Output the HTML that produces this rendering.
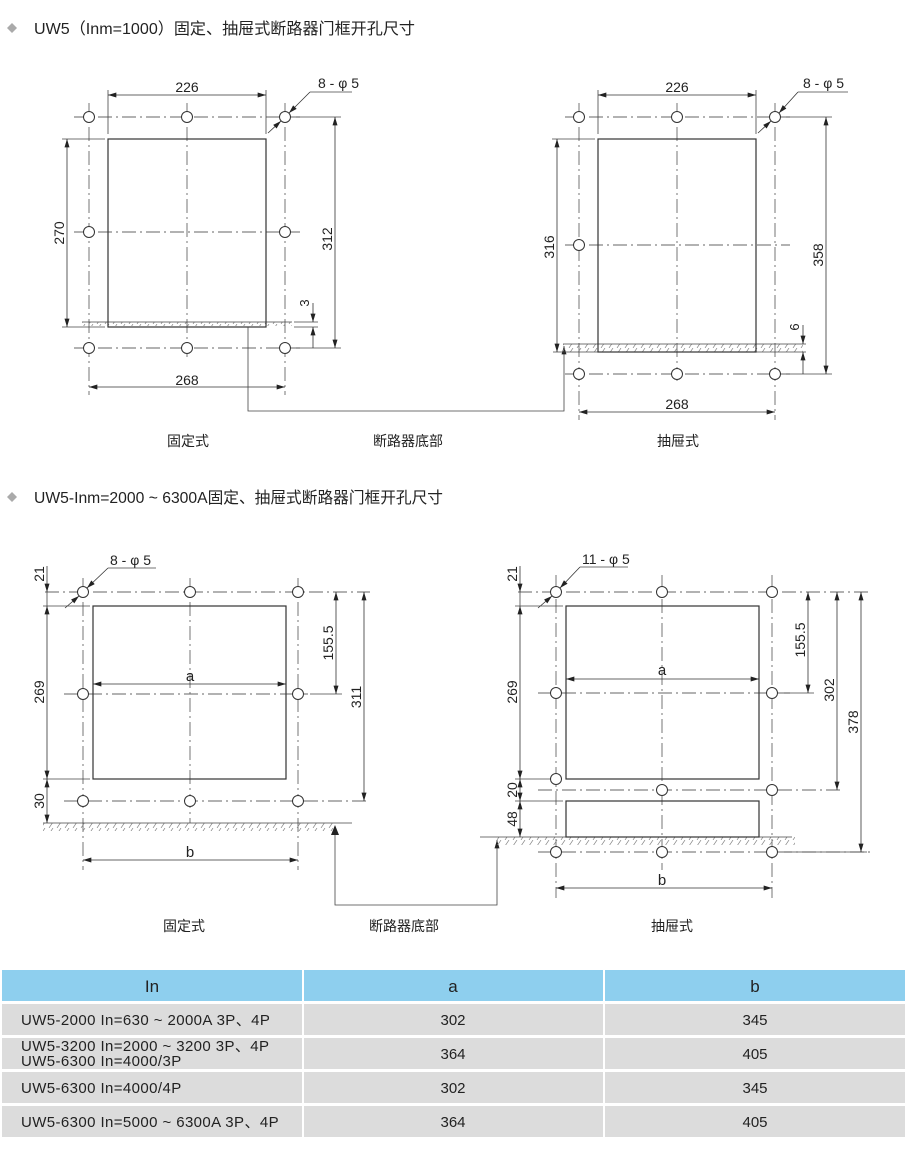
<!DOCTYPE html>
<html><head><meta charset="utf-8"><style>
html,body{margin:0;padding:0;background:#fff;}
body{width:910px;height:1149px;position:relative;overflow:hidden;font-family:"Liberation Sans","Noto Sans CJK SC",sans-serif;}
svg{position:absolute;left:0;top:0;}
.t{font-family:"Liberation Sans","Noto Sans CJK SC",sans-serif;fill:#222;}
</style></head><body>
<svg width="910" height="1149" viewBox="0 0 910 1149" xmlns="http://www.w3.org/2000/svg">
<defs>
<marker id="ar" viewBox="0 0 10 6" refX="10" refY="3" markerWidth="9" markerHeight="5" orient="auto-start-reverse" markerUnits="userSpaceOnUse"><path d="M0,0 L10,3 L0,6 z" fill="#222"/></marker>
<pattern id="hat" width="8" height="6" patternUnits="userSpaceOnUse"><path d="M1,6 L5,0" stroke="#888" stroke-width="0.7"/></pattern>
</defs>
<style>
.c{stroke:#666;stroke-width:0.9;stroke-dasharray:14 4 2 4;fill:none}
.d{stroke:#444;stroke-width:0.8;fill:none}
.r{stroke:#333;stroke-width:1.2;fill:none}
.h{stroke:#333;stroke-width:1;fill:#fff}
.a{stroke:#333;stroke-width:0.8;fill:none;marker-start:url(#ar);marker-end:url(#ar)}
.ae{stroke:#333;stroke-width:0.8;fill:none;marker-end:url(#ar)}
.dm{font-size:14px}
</style>

<path d="M12,23 L17,28 L12,33 L7,28 z" fill="#aaa"/>
<text class="t" x="34" y="34" font-size="16" textLength="381" lengthAdjust="spacingAndGlyphs">UW5（Inm=1000）固定、抽屉式断路器门框开孔尺寸</text>
<path d="M12,492 L17,497 L12,502 L7,497 z" fill="#aaa"/>
<text class="t" x="34" y="503" font-size="16" textLength="409" lengthAdjust="spacingAndGlyphs">UW5-Inm=2000 ~ 6300A固定、抽屉式断路器门框开孔尺寸</text>

<!-- Top-left -->
<g>
<line class="c" x1="74" y1="117" x2="300" y2="117"/>
<line class="c" x1="74" y1="232" x2="300" y2="232"/>
<line class="c" x1="74" y1="348" x2="300" y2="348"/>
<line class="c" x1="89" y1="103" x2="89" y2="395"/>
<line class="c" x1="187" y1="103" x2="187" y2="360"/>
<line class="c" x1="285" y1="103" x2="285" y2="395"/>
<rect x="82" y="322" width="210" height="4" fill="url(#hat)"/>
<line class="d" x1="82" y1="322" x2="292" y2="322"/>
<rect class="r" x="108" y="139" width="158" height="188"/>
<circle class="h" cx="89" cy="117" r="5.5"/><circle class="h" cx="187" cy="117" r="5.5"/><circle class="h" cx="285" cy="117" r="5.5"/>
<circle class="h" cx="89" cy="232" r="5.5"/><circle class="h" cx="285" cy="232" r="5.5"/>
<circle class="h" cx="89" cy="348" r="5.5"/><circle class="h" cx="187" cy="348" r="5.5"/><circle class="h" cx="285" cy="348" r="5.5"/>
<line class="d" x1="108" y1="90" x2="108" y2="134"/><line class="d" x1="266" y1="90" x2="266" y2="134"/>
<line class="a" x1="108" y1="95" x2="266" y2="95"/>
<text class="t dm" x="187" y="92" text-anchor="middle">226</text>
<text class="t dm" x="318" y="88">8 - φ 5</text>
<line class="d" x1="310" y1="92" x2="352" y2="92"/>
<line class="ae" x1="310" y1="92" x2="289" y2="113"/>
<line class="ae" x1="268" y1="133" x2="281" y2="121"/>
<line class="d" x1="62" y1="139" x2="105" y2="139"/><line class="d" x1="62" y1="327" x2="105" y2="327"/>
<line class="a" x1="67" y1="139" x2="67" y2="327"/>
<text class="t dm" text-anchor="middle" transform="translate(64,233) rotate(-90)">270</text>
<line class="d" x1="296" y1="117" x2="341" y2="117"/><line class="d" x1="296" y1="348" x2="341" y2="348"/>
<line class="a" x1="335" y1="117" x2="335" y2="348"/>
<text class="t dm" text-anchor="middle" transform="translate(332,239) rotate(-90)">312</text>
<line class="d" x1="294" y1="322" x2="318" y2="322"/><line class="d" x1="294" y1="327" x2="318" y2="327"/>
<line class="ae" x1="313" y1="303" x2="313" y2="322"/>
<line class="ae" x1="313" y1="348" x2="313" y2="327"/>
<text class="t" font-size="13" text-anchor="middle" transform="translate(309,303) rotate(-90)">3</text>
<line class="a" x1="89" y1="387" x2="285" y2="387"/>
<text class="t dm" x="187" y="385" text-anchor="middle">268</text>
</g>

<polyline class="d" points="248,327 248,411 564,411 564,346" style="marker-end:url(#ar)"/>

<!-- Top-right -->
<g>
<line class="c" x1="565" y1="117" x2="790" y2="117"/>
<line class="c" x1="565" y1="245" x2="790" y2="245"/>
<line class="c" x1="565" y1="374" x2="790" y2="374"/>
<line class="c" x1="579" y1="103" x2="579" y2="420"/>
<line class="c" x1="677" y1="103" x2="677" y2="385"/>
<line class="c" x1="775" y1="103" x2="775" y2="420"/>
<rect x="563" y="344" width="240" height="8" fill="url(#hat)"/>
<line class="d" x1="563" y1="344" x2="806" y2="344"/>
<line class="d" x1="553" y1="352" x2="806" y2="352"/>
<rect class="r" x="598" y="139" width="158" height="213"/>
<circle class="h" cx="579" cy="117" r="5.5"/><circle class="h" cx="677" cy="117" r="5.5"/><circle class="h" cx="775" cy="117" r="5.5"/>
<circle class="h" cx="579" cy="245" r="5.5"/>
<circle class="h" cx="579" cy="374" r="5.5"/><circle class="h" cx="677" cy="374" r="5.5"/><circle class="h" cx="775" cy="374" r="5.5"/>
<line class="d" x1="598" y1="90" x2="598" y2="134"/><line class="d" x1="756" y1="90" x2="756" y2="134"/>
<line class="a" x1="598" y1="95" x2="756" y2="95"/>
<text class="t dm" x="677" y="92" text-anchor="middle">226</text>
<text class="t dm" x="803" y="88">8 - φ 5</text>
<line class="d" x1="798" y1="92" x2="848" y2="92"/>
<line class="ae" x1="798" y1="92" x2="779" y2="113"/>
<line class="ae" x1="758" y1="133" x2="771" y2="121"/>
<line class="d" x1="552" y1="139" x2="595" y2="139"/>
<line class="a" x1="557" y1="139" x2="557" y2="352"/>
<text class="t dm" text-anchor="middle" transform="translate(554,247) rotate(-90)">316</text>
<line class="d" x1="786" y1="117" x2="832" y2="117"/><line class="d" x1="786" y1="374" x2="832" y2="374"/>
<line class="a" x1="826" y1="117" x2="826" y2="374"/>
<text class="t dm" text-anchor="middle" transform="translate(823,255) rotate(-90)">358</text>
<line class="ae" x1="803" y1="325" x2="803" y2="344"/>
<line class="ae" x1="803" y1="374" x2="803" y2="352"/>
<text class="t" font-size="13" text-anchor="middle" transform="translate(799,327) rotate(-90)">6</text>
<line class="a" x1="579" y1="412" x2="775" y2="412"/>
<text class="t dm" x="677" y="409" text-anchor="middle">268</text>
</g>

<text class="t" x="188" y="446" font-size="14" text-anchor="middle">固定式</text>
<text class="t" x="408" y="446" font-size="14" text-anchor="middle">断路器底部</text>
<text class="t" x="678" y="446" font-size="14" text-anchor="middle">抽屉式</text>

<!-- Bottom-left -->
<g>
<line class="c" x1="45" y1="592" x2="370" y2="592"/>
<line class="c" x1="64" y1="694" x2="308" y2="694"/>
<line class="c" x1="64" y1="801" x2="370" y2="801"/>
<line class="c" x1="83" y1="578" x2="83" y2="870"/>
<line class="c" x1="190" y1="578" x2="190" y2="823"/>
<line class="c" x1="298" y1="578" x2="298" y2="870"/>
<rect x="43" y="823" width="290" height="8" fill="url(#hat)"/>
<line class="d" x1="43" y1="823" x2="352" y2="823"/>
<rect class="r" x="93" y="606" width="193" height="173"/>
<circle class="h" cx="83" cy="592" r="5.5"/><circle class="h" cx="190" cy="592" r="5.5"/><circle class="h" cx="298" cy="592" r="5.5"/>
<circle class="h" cx="83" cy="694" r="5.5"/><circle class="h" cx="298" cy="694" r="5.5"/>
<circle class="h" cx="83" cy="801" r="5.5"/><circle class="h" cx="190" cy="801" r="5.5"/><circle class="h" cx="298" cy="801" r="5.5"/>
<text class="t dm" x="110" y="565">8 - φ 5</text>
<line class="d" x1="108" y1="568" x2="156" y2="568"/>
<line class="ae" x1="108" y1="568" x2="87" y2="588"/>
<line class="ae" x1="65" y1="608" x2="79" y2="596"/>
<line class="d" x1="43" y1="606" x2="90" y2="606"/><line class="d" x1="43" y1="779" x2="90" y2="779"/>
<line class="ae" x1="47" y1="566" x2="47" y2="592"/>
<line class="a" x1="47" y1="606" x2="47" y2="779"/>
<line class="a" x1="47" y1="779" x2="47" y2="823"/>
<line class="d" x1="47" y1="592" x2="47" y2="606"/>
<text class="t dm" text-anchor="middle" transform="translate(44,574) rotate(-90)">21</text>
<text class="t dm" text-anchor="middle" transform="translate(44,692) rotate(-90)">269</text>
<text class="t dm" text-anchor="middle" transform="translate(44,801) rotate(-90)">30</text>
<line class="d" x1="310" y1="694" x2="342" y2="694"/>
<line class="a" x1="336" y1="592" x2="336" y2="694"/>
<text class="t dm" text-anchor="middle" transform="translate(333,643) rotate(-90)">155.5</text>
<line class="a" x1="364" y1="592" x2="364" y2="801"/>
<text class="t dm" text-anchor="middle" transform="translate(361,697) rotate(-90)">311</text>
<line class="a" x1="93" y1="684" x2="286" y2="684"/>
<text class="t" x="190" y="681" font-size="15" text-anchor="middle">a</text>
<line class="a" x1="83" y1="860" x2="298" y2="860"/>
<text class="t" x="190" y="857" font-size="15" text-anchor="middle">b</text>
</g>

<polyline class="d" points="335,826 335,905 497,905 497,840" style="marker-end:url(#ar)"/>
<path d="M331,835 L335,825 L339,835 z" fill="#222"/>

<!-- Bottom-right -->
<g>
<line class="c" x1="518" y1="592" x2="870" y2="592"/>
<line class="c" x1="538" y1="693" x2="790" y2="693"/>
<line class="c" x1="538" y1="790" x2="840" y2="790"/>
<line class="c" x1="538" y1="852" x2="870" y2="852"/>
<line class="c" x1="556" y1="575" x2="556" y2="898"/>
<line class="c" x1="662" y1="575" x2="662" y2="870"/>
<line class="c" x1="772" y1="575" x2="772" y2="898"/>
<rect x="495" y="837" width="300" height="8" fill="url(#hat)"/>
<line class="d" x1="480" y1="837" x2="792" y2="837"/>
<rect class="r" x="566" y="606" width="193" height="173"/>
<rect class="r" x="566" y="801" width="193" height="36"/>
<circle class="h" cx="556" cy="592" r="5.5"/><circle class="h" cx="662" cy="592" r="5.5"/><circle class="h" cx="772" cy="592" r="5.5"/>
<circle class="h" cx="556" cy="693" r="5.5"/><circle class="h" cx="772" cy="693" r="5.5"/>
<circle class="h" cx="556" cy="779" r="5.5"/>
<circle class="h" cx="662" cy="790" r="5.5"/><circle class="h" cx="772" cy="790" r="5.5"/>
<circle class="h" cx="556" cy="852" r="5.5"/><circle class="h" cx="662" cy="852" r="5.5"/><circle class="h" cx="772" cy="852" r="5.5"/>
<text class="t dm" x="582" y="564">11 - φ 5</text>
<line class="d" x1="580" y1="567" x2="628" y2="567"/>
<line class="ae" x1="580" y1="567" x2="560" y2="588"/>
<line class="ae" x1="538" y1="608" x2="552" y2="596"/>
<line class="d" x1="515" y1="606" x2="563" y2="606"/>
<line class="d" x1="515" y1="779" x2="550" y2="779"/>
<line class="d" x1="515" y1="801" x2="563" y2="801"/>
<line class="ae" x1="520" y1="566" x2="520" y2="592"/>
<line class="d" x1="520" y1="592" x2="520" y2="606"/>
<line class="a" x1="520" y1="606" x2="520" y2="779"/>
<line class="a" x1="520" y1="779" x2="520" y2="801"/>
<line class="a" x1="520" y1="801" x2="520" y2="837"/>
<text class="t dm" text-anchor="middle" transform="translate(517,574) rotate(-90)">21</text>
<text class="t dm" text-anchor="middle" transform="translate(517,692) rotate(-90)">269</text>
<text class="t dm" text-anchor="middle" transform="translate(517,790) rotate(-90)">20</text>
<text class="t dm" text-anchor="middle" transform="translate(517,819) rotate(-90)">48</text>
<line class="d" x1="784" y1="693" x2="814" y2="693"/>
<line class="a" x1="808" y1="592" x2="808" y2="693"/>
<text class="t dm" text-anchor="middle" transform="translate(805,640) rotate(-90)">155.5</text>
<line class="a" x1="837" y1="592" x2="837" y2="790"/>
<text class="t dm" text-anchor="middle" transform="translate(834,690) rotate(-90)">302</text>
<line class="d" x1="784" y1="852" x2="867" y2="852"/>
<line class="a" x1="861" y1="592" x2="861" y2="852"/>
<text class="t dm" text-anchor="middle" transform="translate(858,722) rotate(-90)">378</text>
<line class="a" x1="566" y1="679" x2="759" y2="679"/>
<text class="t" x="662" y="675" font-size="15" text-anchor="middle">a</text>
<line class="a" x1="556" y1="888" x2="772" y2="888"/>
<text class="t" x="662" y="885" font-size="15" text-anchor="middle">b</text>
</g>

<text class="t" x="184" y="931" font-size="14" text-anchor="middle">固定式</text>
<text class="t" x="404" y="931" font-size="14" text-anchor="middle">断路器底部</text>
<text class="t" x="672" y="931" font-size="14" text-anchor="middle">抽屉式</text>

<!-- Table -->
<g>
<rect x="2" y="970" width="300" height="31" fill="#8ecfee"/>
<rect x="304" y="970" width="299" height="31" fill="#8ecfee"/>
<rect x="605" y="970" width="300" height="31" fill="#8ecfee"/>
<text class="t" x="152" y="992" font-size="17" text-anchor="middle">In</text>
<text class="t" x="453" y="992" font-size="17" text-anchor="middle">a</text>
<text class="t" x="755" y="992" font-size="17" text-anchor="middle">b</text>

<rect x="2" y="1004" width="300" height="31" fill="#dcdcdc"/><rect x="304" y="1004" width="299" height="31" fill="#dcdcdc"/><rect x="605" y="1004" width="300" height="31" fill="#dcdcdc"/>
<rect x="2" y="1038" width="300" height="31" fill="#dcdcdc"/><rect x="304" y="1038" width="299" height="31" fill="#dcdcdc"/><rect x="605" y="1038" width="300" height="31" fill="#dcdcdc"/>
<rect x="2" y="1072" width="300" height="31" fill="#dcdcdc"/><rect x="304" y="1072" width="299" height="31" fill="#dcdcdc"/><rect x="605" y="1072" width="300" height="31" fill="#dcdcdc"/>
<rect x="2" y="1106" width="300" height="31" fill="#dcdcdc"/><rect x="304" y="1106" width="299" height="31" fill="#dcdcdc"/><rect x="605" y="1106" width="300" height="31" fill="#dcdcdc"/>

<g font-size="15" letter-spacing="0.4">
<text class="t" x="21" y="1025">UW5-2000 In=630 ~ 2000A 3P、4P</text>
<text class="t" x="21" y="1051">UW5-3200 In=2000 ~ 3200 3P、4P</text>
<text class="t" x="21" y="1066">UW5-6300 In=4000/3P</text>
<text class="t" x="21" y="1093">UW5-6300 In=4000/4P</text>
<text class="t" x="21" y="1127">UW5-6300 In=5000 ~ 6300A 3P、4P</text>
</g>
<g font-size="15" text-anchor="middle">
<text class="t" x="453" y="1025">302</text><text class="t" x="755" y="1025">345</text>
<text class="t" x="453" y="1059">364</text><text class="t" x="755" y="1059">405</text>
<text class="t" x="453" y="1093">302</text><text class="t" x="755" y="1093">345</text>
<text class="t" x="453" y="1127">364</text><text class="t" x="755" y="1127">405</text>
</g>
</g>
</svg>
</body></html>
